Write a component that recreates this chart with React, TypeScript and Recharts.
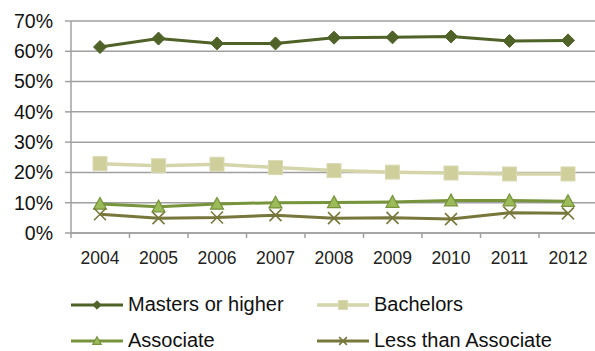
import { LineChart, Line, XAxis, YAxis, CartesianGrid } from "recharts"

const years = ["2004", "2005", "2006", "2007", "2008", "2009", "2010", "2011", "2012"]
const masters = [61.4, 64.2, 62.6, 62.6, 64.5, 64.6, 64.9, 63.4, 63.6]
const bachelors = [22.9, 22.2, 22.7, 21.6, 20.6, 20.1, 19.8, 19.5, 19.5]
const associate = [9.6, 8.7, 9.6, 10.0, 10.1, 10.2, 10.7, 10.7, 10.5]
const lessThan = [6.2, 4.9, 5.1, 5.9, 4.9, 5.0, 4.6, 6.7, 6.5]
const yTicks = [0, 10, 20, 30, 40, 50, 60, 70]

const data = years.map((year, i) => ({
  year,
  masters: masters[i],
  bachelors: bachelors[i],
  associate: associate[i],
  lessThan: lessThan[i],
}))

const FONT = "'Liberation Sans', Arial, sans-serif"
const GRID = "#a0a0a0"

type Shape = "diamond" | "square" | "triangle" | "cross"

const series: { key: string; name: string; line: string; fill: string; shape: Shape; width: number }[] = [
  { key: "masters", name: "Masters or higher", line: "#4f6228", fill: "#4f6228", shape: "diamond", width: 3 },
  { key: "bachelors", name: "Bachelors", line: "#d5d5ab", fill: "#cfcf9c", shape: "square", width: 3.5 },
  { key: "associate", name: "Associate", line: "#77933c", fill: "#9bbb59", shape: "triangle", width: 3 },
  { key: "lessThan", name: "Less than Associate", line: "#77773c", fill: "#77773c", shape: "cross", width: 3 },
]

function Marker({ shape, cx, cy, r, line, fill }: { shape: Shape; cx: number; cy: number; r: number; line: string; fill: string }) {
  if (shape === "diamond") {
    return <polygon points={`${cx},${cy - r} ${cx + r},${cy} ${cx},${cy + r} ${cx - r},${cy}`} fill={fill} stroke={line} strokeWidth={1} />
  }
  if (shape === "square") {
    return <rect x={cx - r} y={cy - r} width={r * 2} height={r * 2} fill={fill} stroke="#d9d9b4" strokeWidth={1} />
  }
  if (shape === "triangle") {
    return <polygon points={`${cx},${cy - r} ${cx + r},${cy + r * 0.8} ${cx - r},${cy + r * 0.8}`} fill={fill} stroke={line} strokeWidth={1.2} />
  }
  return (
    <g stroke={line} strokeWidth={1.6}>
      <line x1={cx - r} y1={cy - r} x2={cx + r} y2={cy + r} />
      <line x1={cx - r} y1={cy + r} x2={cx + r} y2={cy - r} />
    </g>
  )
}

const markerSize: Record<Shape, number> = { diamond: 6.5, square: 7, triangle: 6.5, cross: 6 }

function XTick(props: any) {
  const { x, y, payload } = props
  return (
    <g>
      <line x1={x - 29} y1={y} x2={x - 29} y2={y + 5} stroke={GRID} strokeWidth={1.5} />
      <text x={x} y={y + 31} textAnchor="middle" fontSize={17.5} fontFamily={FONT} fill="#222">
        {payload.value}
      </text>
    </g>
  )
}

function ChartLegend() {
  const cols = [
    { lx: 71, tx: 128 },
    { lx: 317, tx: 374 },
  ]
  return (
    <svg width={595} height={66} style={{ position: "absolute", left: 0, top: 285 }}>
      {series.map((s, i) => {
        const c = cols[i % 2]
        const cy = i < 2 ? 20 : 56
        return (
          <g key={s.key}>
            <line x1={c.lx} y1={cy} x2={c.lx + 52} y2={cy} stroke={s.line} strokeWidth={s.width} />
            <Marker shape={s.shape} cx={c.lx + 26} cy={cy} r={markerSize[s.shape] * 0.65} line={s.line} fill={s.fill} />
            <text x={c.tx} y={cy + 6} fontSize={20} fontFamily={FONT} fill="#111">
              {s.name}
            </text>
          </g>
        )
      })}
    </svg>
  )
}

export default function App() {
  return (
    <div style={{ position: "absolute", left: 0, top: 0, width: 595, height: 351, background: "#fff" }}>
      <LineChart width={595} height={351} data={data} margin={{ top: 21, right: 0, left: 0, bottom: 88 }}>
        <CartesianGrid horizontal vertical={false} stroke={GRID} strokeWidth={1.5} />
        <XAxis
          dataKey="year"
          height={30}
          padding={{ left: 29, right: 27 }}
          axisLine={{ stroke: GRID, strokeWidth: 1.5 }}
          tickLine={false}
          tickSize={0}
          tickMargin={0}
          tick={<XTick />}
          interval={0}
        />
        <YAxis
          width={71}
          domain={[0, 70]}
          ticks={yTicks}
          tickFormatter={(v) => `${v}%`}
          axisLine={{ stroke: GRID, strokeWidth: 1.5 }}
          tickLine={{ stroke: GRID, strokeWidth: 1.5 }}
          tickSize={6}
          tickMargin={12}
          tick={{ fontSize: 19.5, fontFamily: FONT, fill: "#111" }}
          interval={0}
        />
        {series.map((s) => (
          <Line
            key={s.key}
            dataKey={s.key}
            name={s.name}
            stroke={s.line}
            strokeWidth={s.width}
            isAnimationActive={false}
            dot={(p: any) => (
              <Marker key={`${s.key}-${p.index}`} shape={s.shape} cx={p.cx} cy={p.cy} r={markerSize[s.shape]} line={s.line} fill={s.fill} />
            )}
            activeDot={false}
          />
        ))}
      </LineChart>
      <ChartLegend />
    </div>
  )
}
